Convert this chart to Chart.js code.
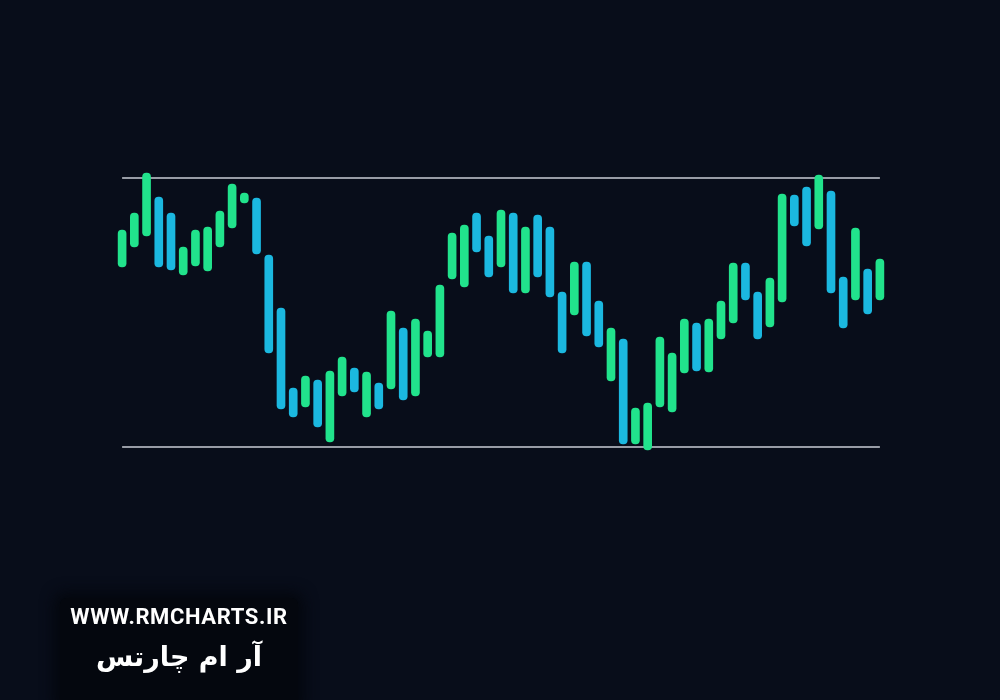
<!DOCTYPE html>
<html>
<head>
<meta charset="utf-8">
<script src="https://cdn.jsdelivr.net/npm/chart.js@4.4.1/dist/chart.umd.min.js"></script>
<style>
  html, body { margin: 0; padding: 0; background: #080d1a; }
  #wrap { position: relative; width: 1000px; height: 700px; overflow: hidden; }
  #priceChart { position: absolute; left: 0; top: 0; }
  .brand {
    position: absolute; left: 60px; top: 598px; width: 238px; height: 110px;
    background: #04070e; box-shadow: 0 0 14px 6px #04070e; border-radius: 6px;
    color: #ffffff; text-align: center;
  }
  .brand .site { font-family: Roboto, "Open Sans", sans-serif; font-weight: 700; font-size: 22px; margin-top: 6px; letter-spacing: 0.6px; }
  .brand .name { font-family: "DejaVu Sans", sans-serif; font-weight: 700; font-size: 27px; margin-top: 12px; direction: rtl; }
</style>
</head>
<body>
<div id="wrap">
  <canvas id="priceChart" width="1000" height="700"></canvas>
  <div class="brand">
    <div class="site">WWW.RMCHARTS.IR</div>
    <div class="name">آر ام چارتس</div>
  </div>
</div>
<script>
// bar highs / lows
const highs = [47.0, 48.7, 52.7, 50.3, 48.7, 45.3, 47.0, 47.3, 48.9, 51.6,
               50.7, 50.2, 44.5, 39.2, 31.2, 32.4, 32.0, 32.9, 34.3, 33.2,
               32.8, 31.7, 38.9, 37.2, 38.1, 36.9, 41.5, 46.7, 47.5, 48.7,
               46.4, 49.0, 48.7, 47.3, 48.5, 47.3, 40.8, 43.8, 43.8, 39.9,
               37.2, 36.1, 29.2, 29.7, 36.3, 34.7, 38.1, 37.7, 38.1, 39.9,
               43.7, 43.7, 40.8, 42.2, 50.6, 50.5, 51.3, 52.5, 50.9, 42.3,
               47.2, 43.1, 44.1];
const lows  = [43.3, 45.3, 46.4, 43.3, 43.0, 42.5, 43.4, 42.9, 45.3, 47.2,
               49.7, 44.6, 34.7, 29.1, 28.3, 29.3, 27.3, 25.8, 30.4, 30.8,
               28.3, 29.1, 31.1, 30.0, 30.4, 34.3, 34.3, 42.1, 41.3, 44.8,
               42.3, 43.3, 40.7, 40.7, 42.3, 40.3, 34.7, 38.5, 36.4, 35.3,
               31.9, 25.6, 25.6, 25.0, 29.3, 28.8, 32.7, 32.9, 32.8, 36.1,
               37.7, 40.0, 36.1, 37.3, 39.8, 47.4, 45.4, 47.1, 40.7, 37.2,
               40.0, 38.6, 40.0];
// u = up bar (green), d = down bar (blue)
const direction = ['u','u','u','d','d','u','u','u','u','u',
                   'u','d','d','d','d','u','d','u','u','d',
                   'u','d','u','d','u','u','u','u','u','d',
                   'd','u','d','u','d','d','d','u','d','d',
                   'u','d','u','u','u','u','u','d','u','u',
                   'u','d','d','u','u','d','d','u','d','d',
                   'u','d','u'];
const resistance = 52.2;
const support = 25.3;
const labels = highs.map((h, i) => 'P' + (i + 1));

const upColor = '#21e38c';
const downColor = '#1bb8e0';

const ctx = document.getElementById('priceChart').getContext('2d');
const priceChart = new Chart(ctx, {
    type: 'bar',
    data: {
        labels: labels,
        datasets: [
            {
                type: 'bar',
                label: 'Range',
                data: highs.map((h, i) => [lows[i], h]),
                backgroundColor: direction.map(d => d === 'u' ? upColor : downColor),
                borderWidth: 0,
                borderSkipped: false,
                borderRadius: 4,
                barThickness: 8,
                order: 0
            },
            {
                type: 'line',
                label: 'Resistance',
                data: labels.map(() => resistance),
                borderColor: '#c9cdd6',
                borderWidth: 1.5,
                pointRadius: 0,
                order: 1
            },
            {
                type: 'line',
                label: 'Support',
                data: labels.map(() => support),
                borderColor: '#c9cdd6',
                borderWidth: 1.5,
                pointRadius: 0,
                order: 1
            }
        ]
    },
    options: {
        responsive: false,
        animation: false,
        layout: { padding: { left: 116, right: 114, top: 0, bottom: 0 } },
        plugins: {
            legend: { display: false },
            tooltip: { enabled: false }
        },
        scales: {
            x: { display: false, offset: true, grid: { display: false } },
            y: { display: false, min: 0, max: 70 }
        }
    }
});
</script>
</body>
</html>
